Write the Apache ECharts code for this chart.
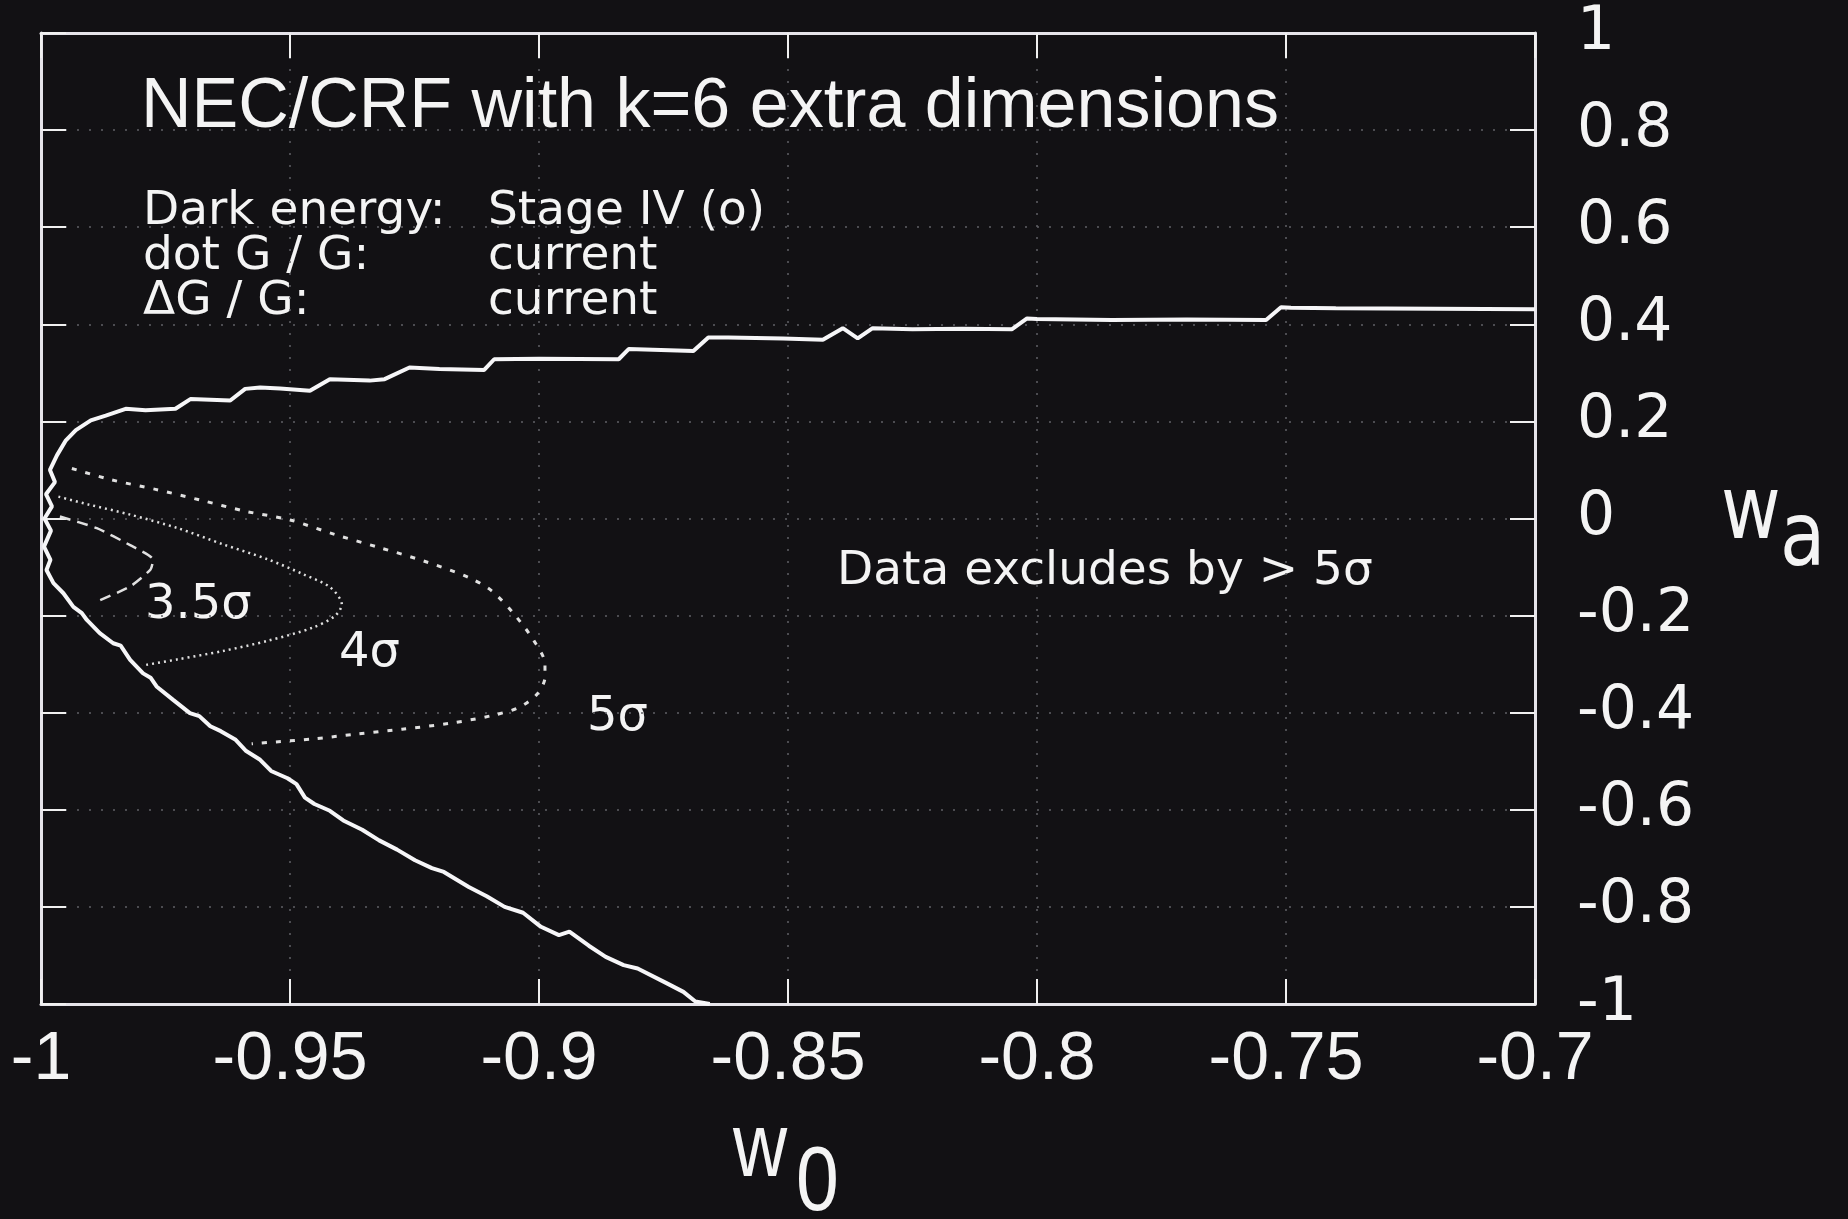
<!DOCTYPE html>
<html>
<head>
<meta charset="utf-8">
<script src="https://cdn.jsdelivr.net/npm/echarts@6/dist/echarts.min.js"></script>
<style>
html,body{margin:0;padding:0;background:#121114;}
#c{width:1848px;height:1219px;}
</style>
</head>
<body>
<div id="c"></div>
<script>
// ---- data (w0, wa) ----
var xTickLabels = ['-1','-0.95','-0.9','-0.85','-0.8','-0.75','-0.7'];
var yTickLabels = ['-1','-0.8','-0.6','-0.4','-0.2','0','0.2','0.4','0.6','0.8','1'];

var boundary = [
  [-0.700,0.431],[-0.720,0.432],[-0.740,0.433],[-0.749,0.434],[-0.751,0.435],
  [-0.754,0.409],[-0.770,0.410],[-0.785,0.409],[-0.800,0.411],[-0.802,0.412],
  [-0.805,0.390],[-0.815,0.391],[-0.825,0.390],[-0.833,0.392],[-0.836,0.371],
  [-0.839,0.392],[-0.843,0.368],[-0.851,0.371],[-0.862,0.373],[-0.866,0.373],
  [-0.869,0.345],[-0.882,0.349],[-0.884,0.328],[-0.900,0.329],[-0.909,0.328],
  [-0.911,0.306],[-0.920,0.308],[-0.926,0.311],[-0.931,0.287],[-0.934,0.284],
  [-0.942,0.287],[-0.946,0.263],[-0.952,0.268],[-0.956,0.270],[-0.959,0.267],
  [-0.962,0.243],[-0.970,0.246],[-0.973,0.226],[-0.979,0.223],[-0.983,0.226],
  [-0.987,0.212],[-0.990,0.202],[-0.993,0.182],[-0.995,0.161],[-0.9968,0.130],
  [-0.9982,0.100],[-0.9972,0.075],[-0.9990,0.050],[-0.9978,0.025],[-0.9993,0.000],
  [-0.9980,-0.025],[-0.9994,-0.058],[-0.9981,-0.085],[-0.9989,-0.106],[-0.9975,-0.133],
  [-0.9955,-0.154],[-0.9935,-0.182],[-0.9918,-0.195],[-0.9908,-0.209],[-0.9882,-0.236],
  [-0.9855,-0.257],[-0.9840,-0.262],[-0.9821,-0.291],[-0.9795,-0.319],[-0.9780,-0.328],
  [-0.9768,-0.346],[-0.9734,-0.374],[-0.9701,-0.401],[-0.9682,-0.407],[-0.9660,-0.428],
  [-0.9639,-0.438],[-0.9610,-0.455],[-0.9588,-0.479],[-0.9560,-0.497],[-0.9538,-0.520],
  [-0.9505,-0.535],[-0.9487,-0.547],[-0.9470,-0.575],[-0.9451,-0.588],[-0.9420,-0.602],
  [-0.9393,-0.622],[-0.9355,-0.641],[-0.9321,-0.663],[-0.9285,-0.682],[-0.9249,-0.704],
  [-0.9215,-0.720],[-0.9191,-0.728],[-0.9141,-0.759],[-0.9105,-0.778],[-0.9069,-0.800],
  [-0.9032,-0.812],[-0.8996,-0.841],[-0.8960,-0.858],[-0.8939,-0.851],[-0.8900,-0.880],
  [-0.8866,-0.903],[-0.8830,-0.920],[-0.8802,-0.927],[-0.8744,-0.957],[-0.8710,-0.975],
  [-0.8686,-0.995],[-0.8657,-1.000]
];

var sigma5 = [
  [-0.9938,0.103],[-0.986,0.080],[-0.977,0.060],[-0.968,0.038],[-0.959,0.015],
  [-0.950,-0.003],[-0.941,-0.033],[-0.932,-0.060],[-0.923,-0.088],[-0.914,-0.122],
  [-0.9095,-0.149],[-0.905,-0.197],[-0.9010,-0.252],[-0.8988,-0.300],[-0.8988,-0.327],
  [-0.9004,-0.362],[-0.904,-0.389],[-0.9095,-0.406],[-0.918,-0.422],[-0.9275,-0.434],
  [-0.9365,-0.444],[-0.9455,-0.454],[-0.9577,-0.464]
];

var sigma4 = [
  [-0.9965,0.045],[-0.9905,0.029],[-0.9821,0.008],[-0.9725,-0.020],[-0.9635,-0.053],
  [-0.9545,-0.084],[-0.9473,-0.115],[-0.9419,-0.142],[-0.9396,-0.177],[-0.941,-0.201],
  [-0.9455,-0.225],[-0.9545,-0.252],[-0.9635,-0.273],[-0.9725,-0.290],[-0.9797,-0.303]
];

var sigma35 = [
  [-0.9962,0.004],[-0.9888,-0.020],[-0.9821,-0.055],[-0.9775,-0.085],[-0.9780,-0.105],
  [-0.9821,-0.140],[-0.9888,-0.171]
];

// ---- chart ----
function pick(labels, v){
  for (var i=0;i<labels.length;i++){ if (Math.abs(parseFloat(labels[i])-v)<1e-6) return labels[i]; }
  return '';
}
var frame = {show:true, onZero:false, lineStyle:{color:'#e6e4ea', width:3}};
var tick = {show:true, inside:true, length:25, lineStyle:{color:'#f0f0f0', width:2}};
var grid = {show:true, lineStyle:{color:'#606066', width:1.5, type:[2,10]}};
var white = '#f4f4f4';

var chart = echarts.init(document.getElementById('c'), null, {renderer:'canvas'});
chart.setOption({
  backgroundColor:'#121114',
  animation:false,
  grid:{left:41, right:313, top:33, bottom:215},
  xAxis:[
    {type:'value', min:-1, max:-0.7, interval:0.05, position:'bottom',
     axisLine:frame, axisTick:tick, splitLine:grid,
     axisLabel:{show:true, margin:22, color:white, fontFamily:'Liberation Sans', fontSize:68,
       showMinLabel:true, showMaxLabel:true, formatter:function(v){return pick(xTickLabels,v);}}},
    {type:'value', min:-1, max:-0.7, interval:0.05, position:'top',
     axisLine:frame, axisTick:tick, splitLine:{show:false}, axisLabel:{show:false}}
  ],
  yAxis:[
    {type:'value', min:-1, max:1, interval:0.2, position:'right',
     axisLine:frame, axisTick:tick, splitLine:grid,
     axisLabel:{show:true, margin:42, color:white, fontFamily:'DejaVu Sans', fontSize:60,
       showMinLabel:true, showMaxLabel:true, formatter:function(v){return pick(yTickLabels,v);}}},
    {type:'value', min:-1, max:1, interval:0.2, position:'left',
     axisLine:frame, axisTick:tick, splitLine:{show:false}, axisLabel:{show:false}}
  ],
  series:[
    {type:'line', data:boundary, showSymbol:false, symbol:'none', xAxisIndex:0, yAxisIndex:0,
     lineStyle:{color:'#f6f6f8', width:4}},
    {type:'line', data:sigma5, showSymbol:false, symbol:'none', smooth:0.3, xAxisIndex:0, yAxisIndex:0,
     lineStyle:{color:'#e0e0e0', width:3, type:[5,9]}},
    {type:'line', data:sigma4, showSymbol:false, symbol:'none', smooth:0.3, xAxisIndex:0, yAxisIndex:0,
     lineStyle:{color:'#e0e0e0', width:2.5, type:[2,4]}},
    {type:'line', data:sigma35, showSymbol:false, symbol:'none', smooth:0.2, xAxisIndex:0, yAxisIndex:0,
     lineStyle:{color:'#e0e0e0', width:2.5, type:[11,7]}}
  ],
  graphic:[
    {type:'text', x:141, y:108, style:{text:'NEC/CRF with k=6 extra dimensions', fill:white,
      fontFamily:'Liberation Sans', fontSize:70, textAlign:'left', textVerticalAlign:'middle'}},
    {type:'text', x:143, y:212, style:{text:'Dark energy:', fill:white, fontFamily:'DejaVu Sans', fontSize:47, textVerticalAlign:'middle'}},
    {type:'text', x:143, y:257, style:{text:'dot G / G:', fill:white, fontFamily:'DejaVu Sans', fontSize:47, textVerticalAlign:'middle'}},
    {type:'text', x:143, y:302, style:{text:'\u0394G / G:', fill:white, fontFamily:'DejaVu Sans', fontSize:47, textVerticalAlign:'middle'}},
    {type:'text', x:488, y:212, style:{text:'Stage IV (o)', fill:white, fontFamily:'DejaVu Sans', fontSize:47, textVerticalAlign:'middle'}},
    {type:'text', x:488, y:257, style:{text:'current', fill:white, fontFamily:'DejaVu Sans', fontSize:47, textVerticalAlign:'middle'}},
    {type:'text', x:488, y:302, style:{text:'current', fill:white, fontFamily:'DejaVu Sans', fontSize:47, textVerticalAlign:'middle'}},
    {type:'text', x:837, y:572, style:{text:'Data excludes by > 5\u03c3', fill:white, fontFamily:'DejaVu Sans', fontSize:47, textVerticalAlign:'middle'}},
    {type:'text', x:145, y:606, style:{text:'3.5\u03c3', fill:white, fontFamily:'DejaVu Sans', fontSize:48, textVerticalAlign:'middle'}},
    {type:'text', x:339, y:654, style:{text:'4\u03c3', fill:white, fontFamily:'DejaVu Sans', fontSize:48, textVerticalAlign:'middle'}},
    {type:'text', x:587, y:718, style:{text:'5\u03c3', fill:white, fontFamily:'DejaVu Sans', fontSize:48, textVerticalAlign:'middle'}},
    {type:'text', x:733, y:1151, scaleY:1.2, style:{text:'w', fill:white, fontFamily:'Liberation Sans', fontSize:75, textVerticalAlign:'middle'}},
    {type:'text', x:796, y:1185, scaleY:1.17, style:{text:'0', fill:white, fontFamily:'Liberation Sans', fontSize:77, textVerticalAlign:'middle'}},
    {type:'text', x:1721, y:515, scaleY:1.2, style:{text:'w', fill:white, fontFamily:'DejaVu Sans', fontSize:73, textVerticalAlign:'middle'}},
    {type:'text', x:1780, y:542, scaleY:1.2, style:{text:'a', fill:white, fontFamily:'DejaVu Sans', fontSize:74, textVerticalAlign:'middle'}}
  ]
});
</script>
</body>
</html>
